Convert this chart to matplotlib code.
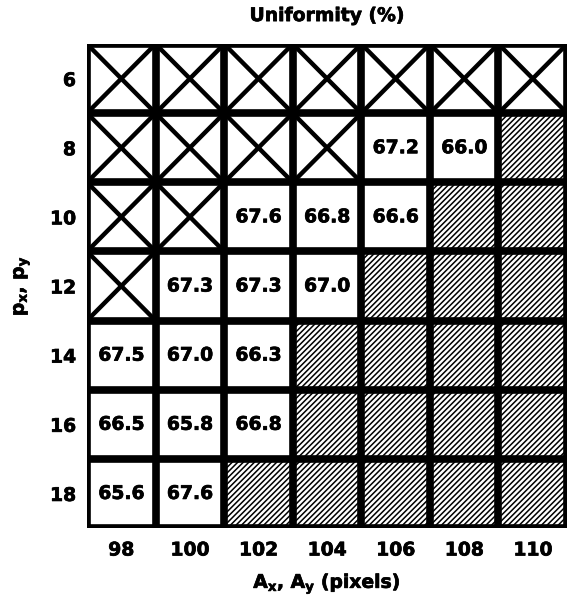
import numpy as np
import matplotlib
matplotlib.use("Agg")
import matplotlib.pyplot as plt
import matplotlib.patheffects as pe
from matplotlib.patches import Rectangle

plt.rcParams['font.family'] = ['DejaVu Sans']
plt.rcParams['font.weight'] = 'bold'
plt.rcParams['mathtext.fontset'] = 'dejavusans'
plt.rcParams['hatch.linewidth'] = 1.1

FS = 13.5
# a thin outline makes the bold text a bit heavier, like the original
heavy = [pe.withStroke(linewidth=0.5, foreground='black')]

a_vals = [98, 100, 102, 104, 106, 108, 110]
p_vals = [6, 8, 10, 12, 14, 16, 18]

# 'x' = crossed cell, 'h' = hatched cell, otherwise uniformity value
cells = [
    ['x', 'x', 'x', 'x', 'x', 'x', 'x'],
    ['x', 'x', 'x', 'x', 67.2, 66.0, 'h'],
    ['x', 'x', 67.6, 66.8, 66.6, 'h', 'h'],
    ['x', 67.3, 67.3, 67.0, 'h', 'h', 'h'],
    [67.5, 67.0, 66.3, 'h', 'h', 'h', 'h'],
    [66.5, 65.8, 66.8, 'h', 'h', 'h', 'h'],
    [65.6, 67.6, 'h', 'h', 'h', 'h', 'h'],
]

fig = plt.figure(figsize=(5.84, 5.99), dpi=100)
ax = fig.add_axes([0.149, 0.1185, 0.822, 0.808])

ncol, nrow = len(a_vals), len(p_vals)
for i, row in enumerate(cells):
    for j, c in enumerate(row):
        if c == 'h':
            ax.add_patch(Rectangle((j, i), 1, 1, facecolor='white',
                                   edgecolor='black', hatch='//////', lw=0))
        elif c == 'x':
            ax.plot([j, j + 1], [i, i + 1], color='black', lw=3.2,
                    solid_capstyle='butt')
            ax.plot([j, j + 1], [i + 1, i], color='black', lw=3.2,
                    solid_capstyle='butt')
        else:
            ax.text(j + 0.5, i + 0.5, f'{c:.1f}', ha='center', va='center',
                    fontsize=FS, fontweight='bold', path_effects=heavy)

# thick cell borders
for k in range(ncol + 1):
    ax.axvline(k, color='black', lw=5.5)
for k in range(nrow + 1):
    ax.axhline(k, color='black', lw=5.5)

ax.set_xlim(0, ncol)
ax.set_ylim(nrow, 0)
for s in ax.spines.values():
    s.set_visible(False)

ax.set_xticks(np.arange(ncol) + 0.5)
ax.set_xticklabels([str(v) for v in a_vals], fontsize=FS, fontweight='bold',
                   path_effects=heavy)
ax.set_yticks(np.arange(nrow) + 0.5)
ax.set_yticklabels([str(v) for v in p_vals], fontsize=FS, fontweight='bold',
                   path_effects=heavy)
ax.tick_params(axis='x', length=0, pad=9)
ax.tick_params(axis='y', length=0, pad=8)

ax.set_xlabel(r'$\mathbf{A_x}$, $\mathbf{A_y}$ (pixels)', fontsize=FS,
              fontweight='bold', labelpad=8, path_effects=heavy)
ax.set_ylabel(r'$\mathbf{p_x}$, $\mathbf{p_y}$', fontsize=FS,
              fontweight='bold', labelpad=13, path_effects=heavy)
fig.text(0.56, 0.974, 'Uniformity (%)', ha='center', va='center',
         fontsize=FS, fontweight='bold', path_effects=heavy)

fig.savefig('out.png', dpi=100)
